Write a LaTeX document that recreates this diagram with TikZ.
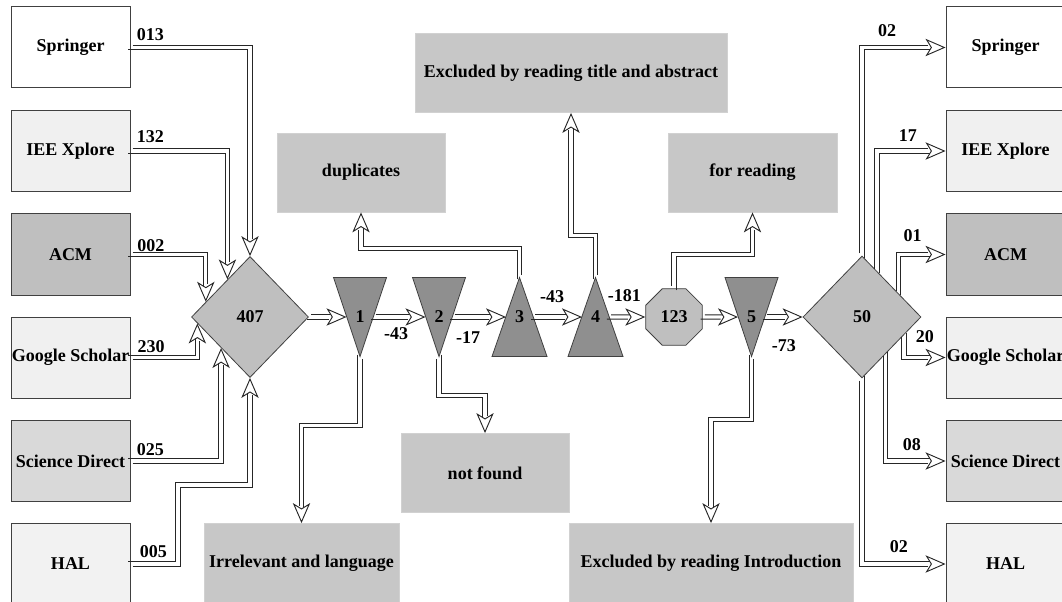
\documentclass[tikz,border=0pt]{standalone}
\usepackage{fontspec}
\setmainfont{Liberation Serif}
\usetikzlibrary{arrows.meta,shapes.geometric,decorations.markings}

\begin{document}
\begin{tikzpicture}[x=0.75pt,y=-0.75pt,
		font=\bfseries\fontsize{13.5}{16}\selectfont,
		src/.style={draw=black!75,line width=0.75pt,minimum width=89.25pt,minimum height=60.75pt,inner sep=0pt},
		res/.style={draw=black!18,fill=black!22,minimum height=59.5pt,inner sep=0pt},
		trif/.style={draw=black!75,fill=black!44,line width=0.6pt,line join=miter},
		tcore/.style={minimum width=19.9pt,minimum height=59.25pt,inner sep=0pt},
		dia/.style={diamond,draw=black!75,fill=black!25,line width=0.6pt,inner sep=0pt},
		dwall/.style={draw=black!85,line width=0.75pt,shorten >=11.5pt},
		ahead/.style={decorate,decoration={markings,mark=at position 1 with
			{\arrow[black!85,line width=0.7pt]{Stealth[length=15pt,width=13pt,inset=4pt,fill=white]}}}},
		dbl/.style={postaction={dwall,transform canvas={shift={(1.6pt,1.6pt)}}},
			postaction={dwall,transform canvas={shift={(-1.6pt,-1.6pt)}}},postaction={ahead}},
		dblr/.style={postaction={dwall,transform canvas={shift={(1.6pt,-1.6pt)}}},
			postaction={dwall,transform canvas={shift={(-1.6pt,1.6pt)}}},postaction={ahead}},
		num/.style={anchor=base,inner sep=0pt}]
	\useasboundingbox (0,0) rectangle (1062,602);
	% sources
	\node[src,fill=white] (spr) at (70.5,47.5) {Springer};
	\node[src,fill=black!6] (iee) at (70.5,151) {IEE Xplore};
	\node[src,fill=black!25] (acm) at (70.5,254.5) {ACM};
	\node[src,fill=black!6] (gs) at (70.5,357.5) {Google Scholar};
	\node[src,fill=black!15] (sd) at (70.5,461) {Science Direct};
	\node[src,fill=black!5] (hal) at (70.5,564) {HAL};
	% results
	\node[src,fill=white] (spr2) at (1005.5,47.5) {Springer};
	\node[src,fill=black!6] (iee2) at (1005.5,151) {IEE Xplore};
	\node[src,fill=black!25] (acm2) at (1005.5,254.5) {ACM};
	\node[src,fill=black!6] (gs2) at (1005.5,357.5) {Google Scholar};
	\node[src,fill=black!15] (sd2) at (1005.5,461) {Science Direct};
	\node[src,fill=black!5] (hal2) at (1005.5,564) {HAL};
	% flow
	\node[dia,minimum width=87.75pt,minimum height=90.75pt] (d407) at (250,317) {407};
	\filldraw[trif] (333.5,277.5) -- (386.5,277.5) -- (360,356.5) -- cycle;
	\node[tcore] (t1) at (360,317) {1};
	\filldraw[trif] (412.5,277.5) -- (465.5,277.5) -- (439,356.5) -- cycle;
	\node[tcore] (t2) at (439,317) {2};
	\filldraw[trif] (519.5,277.5) -- (547,356.5) -- (492,356.5) -- cycle;
	\node[tcore] (t3) at (519.5,317) {3};
	\filldraw[trif] (595.5,277.5) -- (623,356.5) -- (568,356.5) -- cycle;
	\node[tcore] (t4) at (595.5,317) {4};
	\node[regular polygon,regular polygon sides=8,draw=black!75,fill=black!25,line width=0.6pt,minimum size=46pt,inner sep=0pt] (oct) at (674,317) {123};
	\filldraw[trif] (725,277.5) -- (778,277.5) -- (751.5,356.5) -- cycle;
	\node[tcore] (t5) at (751.5,317) {5};
	\node[dia,minimum width=88.5pt,minimum height=91.5pt] (d50) at (862,317) {50};
	% excluded
	\node[res,minimum width=126pt] (dup) at (361,172.5) {duplicates};
	\node[res,minimum width=234pt] (tia) at (571,73) {Excluded by reading title and abstract};
	\node[res,minimum width=126.75pt] (fre) at (752.5,172.5) {for reading};
	\node[res,minimum width=126pt] (nf) at (485,473) {not found};
	\node[res,minimum width=146.25pt] (irr) at (301.5,563) {Irrelevant and language};
	\node[res,minimum width=213pt] (intro) at (711,563) {Excluded by reading Introduction};

	\path[dbl] (spr) -| node[num,pos=0.083,yshift=5.6pt] {013} (d407.north);
	\path[dbl] (iee) -| node[num,pos=0.102,yshift=6pt] {132} (d407.121);
	\path[dbl] (acm) -| node[num,pos=0.136,yshift=2pt] {002} (d407.161);
	\path[dblr] (gs) -| node[num,pos=0.154,yshift=4pt] {230} (d407.187);
	\path[dblr] (sd) -| node[num,pos=0.11,yshift=4.5pt] {025} (d407.227);
	\path[dblr] (hal) -| node[num,pos=0.24,yshift=5.25pt] {005} (178,485) -| (d407.south);

	\path[dbl] (d407) -- (t1);
	\path[dbl] (t1) -- node[num,xshift=-2.5pt,yshift=-17pt] {-43} (t2);
	\path[dbl] (t2) -- node[num,xshift=-8.4pt,yshift=-20pt] {-17} (t3);
	\path[dbl] (t3) -- node[num,xshift=-4pt,yshift=11pt] {-43} (t4);
	\path[dbl] (t4) -- node[num,xshift=-2pt,yshift=12pt] {-181} (oct);
	\path[dbl] (oct) -- (t5);
	\path[dbl] (t5) -- node[num,yshift=-26pt] {-73} (d50);

	\path[dblr] (t1.south) -- ++(0,69) -| (irr);
	\path[dbl] (t2.south) -- ++(0,39) -| (nf);
	\path[dbl] (t3.north) -- ++(0,-29) -| (dup);
	\path[dbl] (t4.north) -- ++(0,-42) -| (tia);
	\path[dblr] (oct.north) -- ++(0,-34) -| (fre);
	\path[dblr] (t5.south) -- ++(0,63) -| (intro);

	\path[dblr] (d50.north) |- node[num,pos=0.65,yshift=8pt] {02} (spr2);
	\path[dblr] (d50.72) |- node[num,pos=0.725,yshift=7pt] {17} (iee2);
	\path[dblr] (d50.33) |- node[num,pos=0.65,yshift=9.5pt] {01} (acm2);
	\path[dbl] (d50.337) |- node[num,pos=0.75,yshift=11pt] {20} (gs2);
	\path[dbl] (d50.302) |- node[num,pos=0.72,yshift=8pt] {08} (sd2);
	\path[dbl] (d50.south) |- node[num,pos=0.72,yshift=9pt] {02} (hal2);
\end{tikzpicture}
\end{document}
